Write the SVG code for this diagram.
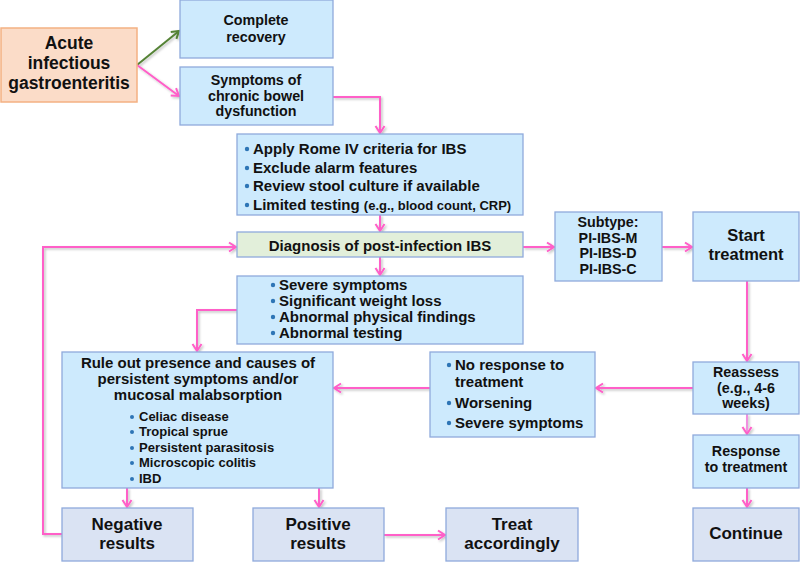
<svg xmlns="http://www.w3.org/2000/svg" width="800" height="562" viewBox="0 0 800 562">
<style>
  .box{fill:#cdeafd;stroke:#8faadc;stroke-width:1.3}
  .res{fill:#dae3f3;stroke:#8faadc;stroke-width:1.3}
  .dx{fill:#e2efda;stroke:#8faadc;stroke-width:1.3}
  .src{fill:#fbdcc8;stroke:#f4b183;stroke-width:1.5}
  text{font-family:"Liberation Sans",Arial,sans-serif;font-weight:bold;fill:#111}
  .c{text-anchor:middle}
  .f15{font-size:15px}
  .f14{font-size:14.3px}
  .f17{font-size:17px}
  .f13{font-size:13px}
  .bul{fill:#2e75b6}
  .ln{fill:none;stroke:#ff5ec8;stroke-width:2}
  .gr{fill:none;stroke:#548235;stroke-width:2}
</style>
<defs>
  <marker id="ap" markerWidth="12" markerHeight="12" refX="9" refY="6" orient="auto" markerUnits="userSpaceOnUse">
    <path d="M2,1.5 L9,6 L2,10.5" fill="none" stroke="#ff5ec8" stroke-width="2"/>
  </marker>
  <marker id="ag" markerWidth="12" markerHeight="12" refX="9" refY="6" orient="auto" markerUnits="userSpaceOnUse">
    <path d="M2,1.5 L9,6 L2,10.5" fill="none" stroke="#548235" stroke-width="2"/>
  </marker>
  <filter id="sh" x="-10%" y="-10%" width="130%" height="130%">
    <feDropShadow dx="1.5" dy="1.5" stdDeviation="1" flood-color="#000" flood-opacity="0.25"/>
  </filter>
</defs>

<g id="connectors" filter="url(#sh)">
  <line class="gr" x1="137" y1="65" x2="179" y2="31" marker-end="url(#ag)"/>
  <line class="ln" x1="137" y1="65" x2="179" y2="96" marker-end="url(#ap)"/>
  <polyline class="ln" points="333,97 380,97 380,133" marker-end="url(#ap)"/>
  <line class="ln" x1="380" y1="215" x2="380" y2="231" marker-end="url(#ap)"/>
  <line class="ln" x1="523" y1="247" x2="554" y2="247" marker-end="url(#ap)"/>
  <line class="ln" x1="662" y1="247" x2="692" y2="247" marker-end="url(#ap)"/>
  <line class="ln" x1="380" y1="257" x2="380" y2="275" marker-end="url(#ap)"/>
  <polyline class="ln" points="237,310 197,310 197,351" marker-end="url(#ap)"/>
  <line class="ln" x1="747" y1="281" x2="747" y2="361" marker-end="url(#ap)"/>
  <line class="ln" x1="693" y1="388" x2="596" y2="388" marker-end="url(#ap)"/>
  <line class="ln" x1="430" y1="388" x2="334" y2="388" marker-end="url(#ap)"/>
  <line class="ln" x1="747" y1="414" x2="747" y2="434" marker-end="url(#ap)" style="stroke:#f08fe0"/>
  <line class="ln" x1="747" y1="488" x2="747" y2="507" marker-end="url(#ap)"/>
  <line class="ln" x1="127" y1="488" x2="127" y2="507" marker-end="url(#ap)"/>
  <line class="ln" x1="319" y1="488" x2="319" y2="507" marker-end="url(#ap)"/>
  <line class="ln" x1="384" y1="535" x2="445" y2="535" marker-end="url(#ap)"/>
  <polyline class="ln" points="62,534 43,534 43,247 236,247" marker-end="url(#ap)"/>
</g>

<g id="acute">
  <rect class="src" x="1" y="28" width="136" height="74"/>
  <text class="c" x="69" y="49" style="font-size:17.5px">Acute</text>
  <text class="c" x="69" y="69" style="font-size:17.5px">infectious</text>
  <text class="c" x="69" y="89" style="font-size:17.5px">gastroenteritis</text>
</g>

<g id="recovery">
  <rect class="box" x="180" y="0" width="153" height="58"/>
  <text class="c f14" x="256" y="25">Complete</text>
  <text class="c f14" x="256" y="42">recovery</text>
</g>

<g id="symptoms">
  <rect class="box" x="180" y="67" width="153" height="58"/>
  <text class="c f14" x="256" y="85">Symptoms of</text>
  <text class="c f14" x="256" y="100.5">chronic bowel</text>
  <text class="c f14" x="256" y="116">dysfunction</text>
</g>

<g id="rome">
  <rect class="box" x="237" y="134" width="286" height="81"/>
  <circle class="bul" cx="247" cy="149" r="2.2"/>
  <circle class="bul" cx="247" cy="168" r="2.2"/>
  <circle class="bul" cx="247" cy="186" r="2.2"/>
  <circle class="bul" cx="247" cy="205" r="2.2"/>
  <text class="f15" x="253" y="154">Apply Rome IV criteria for IBS</text>
  <text class="f15" x="253" y="173">Exclude alarm features</text>
  <text class="f15" x="253" y="191">Review stool culture if available</text>
  <text class="f15" x="253" y="210">Limited testing <tspan style="font-size:13px">(e.g., blood count, CRP)</tspan></text>
</g>

<g id="diagnosis">
  <rect class="dx" x="237" y="232" width="286" height="25"/>
  <text class="c f15" x="380" y="251">Diagnosis of post-infection IBS</text>
</g>

<g id="subtype">
  <rect class="box" x="555" y="212" width="107" height="69"/>
  <text class="c f14" x="608" y="227">Subtype:</text>
  <text class="c f14" x="608" y="242.5">PI-IBS-M</text>
  <text class="c f14" x="608" y="258">PI-IBS-D</text>
  <text class="c f14" x="608" y="273.5">PI-IBS-C</text>
</g>

<g id="start">
  <rect class="box" x="693" y="212" width="106" height="69"/>
  <text class="c" x="746" y="241" style="font-size:16.5px">Start</text>
  <text class="c" x="746" y="260" style="font-size:16.5px">treatment</text>
</g>

<g id="severe">
  <rect class="box" x="237" y="276" width="286" height="68"/>
  <circle class="bul" cx="273" cy="285" r="2.2"/>
  <circle class="bul" cx="273" cy="301" r="2.2"/>
  <circle class="bul" cx="273" cy="317" r="2.2"/>
  <circle class="bul" cx="273" cy="333" r="2.2"/>
  <text class="f15" x="279" y="290">Severe symptoms</text>
  <text class="f15" x="279" y="306">Significant weight loss</text>
  <text class="f15" x="279" y="322">Abnormal physical findings</text>
  <text class="f15" x="279" y="338">Abnormal testing</text>
</g>

<g id="ruleout">
  <rect class="box" x="62" y="352" width="271" height="136"/>
  <text class="c f15" x="198" y="368">Rule out presence and causes of</text>
  <text class="c f15" x="198" y="384">persistent symptoms and/or</text>
  <text class="c f15" x="198" y="400">mucosal malabsorption</text>
  <circle class="bul" cx="132" cy="417" r="2"/>
  <circle class="bul" cx="132" cy="432" r="2"/>
  <circle class="bul" cx="132" cy="448" r="2"/>
  <circle class="bul" cx="132" cy="463" r="2"/>
  <circle class="bul" cx="132" cy="479" r="2"/>
  <text class="f13" x="139" y="421">Celiac disease</text>
  <text class="f13" x="139" y="436">Tropical sprue</text>
  <text class="f13" x="139" y="452">Persistent parasitosis</text>
  <text class="f13" x="139" y="467">Microscopic colitis</text>
  <text class="f13" x="139" y="483">IBD</text>
</g>

<g id="noresponse">
  <rect class="box" x="430" y="352" width="165" height="85"/>
  <circle class="bul" cx="449" cy="365" r="2.2"/>
  <circle class="bul" cx="449" cy="403" r="2.2"/>
  <circle class="bul" cx="449" cy="423" r="2.2"/>
  <text class="f15" x="455" y="370">No response to</text>
  <text class="f15" x="455" y="387">treatment</text>
  <text class="f15" x="455" y="408">Worsening</text>
  <text class="f15" x="455" y="428">Severe symptoms</text>
</g>

<g id="reassess">
  <rect class="box" x="693" y="362" width="106" height="52"/>
  <text class="c f14" x="746" y="377">Reassess</text>
  <text class="c f14" x="746" y="392.5">(e.g., 4-6</text>
  <text class="c f14" x="746" y="408">weeks)</text>
</g>

<g id="response">
  <rect class="box" x="693" y="435" width="106" height="53"/>
  <text class="c f14" x="746" y="455.5">Response</text>
  <text class="c f14" x="746" y="471.5">to treatment</text>
</g>

<g id="negative">
  <rect class="res" x="62" y="508" width="131" height="53"/>
  <text class="c f17" x="127" y="530">Negative</text>
  <text class="c f17" x="127" y="549">results</text>
</g>

<g id="positive">
  <rect class="res" x="253" y="508" width="131" height="53"/>
  <text class="c f17" x="318" y="530">Positive</text>
  <text class="c f17" x="318" y="549">results</text>
</g>

<g id="treat">
  <rect class="res" x="446" y="508" width="132" height="53"/>
  <text class="c f17" x="512" y="530">Treat</text>
  <text class="c f17" x="512" y="549">accordingly</text>
</g>

<g id="continue">
  <rect class="res" x="693" y="508" width="106" height="53"/>
  <text class="c f17" x="746" y="539">Continue</text>
</g>
</svg>
